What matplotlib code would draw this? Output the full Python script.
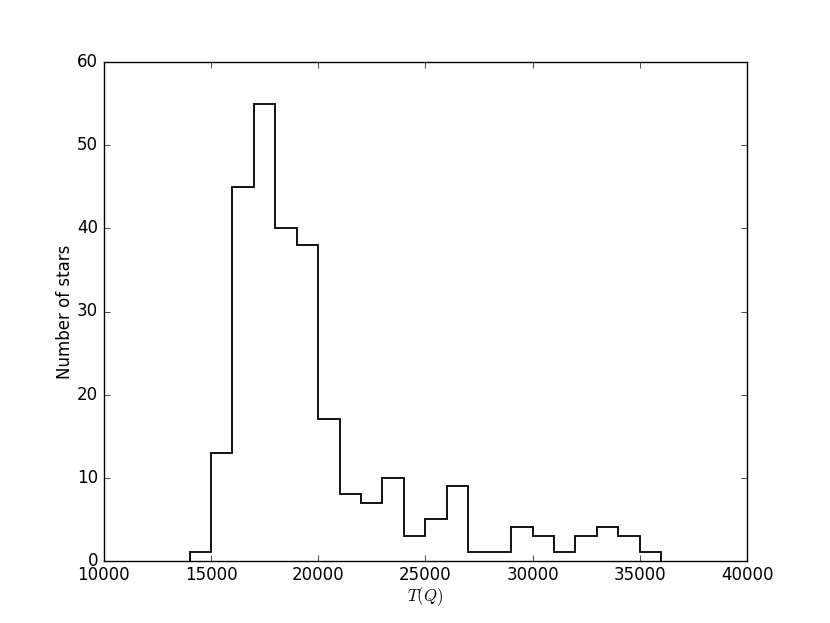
import numpy as np
import matplotlib
matplotlib.use('Agg')
import matplotlib.pyplot as plt

# histogram of T(Q), bins of 1000 K
bordas = np.arange(14000, 37000, 1000)
contagens = [1, 13, 45, 55, 40, 38, 17, 8, 7, 10, 3, 5, 9, 1, 1, 4, 3, 1, 3, 4, 3, 1]

plt.style.use('classic')
plt.rcParams['mathtext.fontset'] = 'cm'

fig = plt.figure(figsize=(8.3, 6.23), dpi=100)
ax = fig.add_subplot(111)
ax.stairs(contagens, bordas, color='k', linewidth=1.3, baseline=0)
ax.set_xlim(10000, 40000)
ax.set_ylim(0, 60)
ax.set_xticks(np.arange(10000, 40001, 5000))
ax.set_yticks(np.arange(0, 61, 10))
ax.set_xlabel(r'$T(Q)$', labelpad=1)
ax.set_ylabel('Number of stars', labelpad=2)
fig.savefig('out.png', dpi=100)
